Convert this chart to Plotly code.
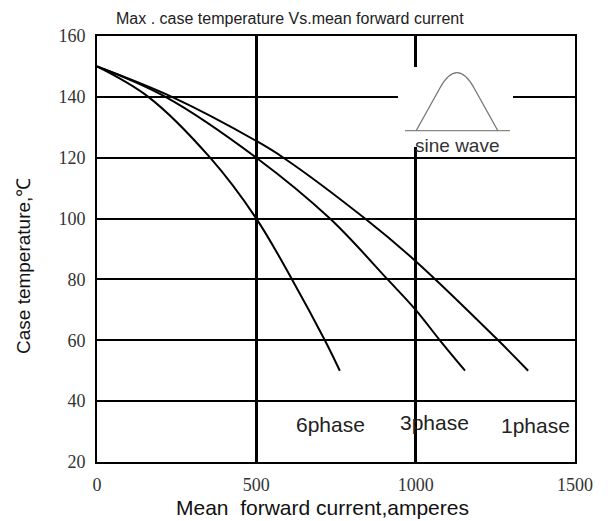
import plotly.graph_objects as go

# ---- data ----
x_6phase = [0, 161, 355, 500, 612, 715, 762]
y_6phase = [150, 140, 120, 100, 80, 60, 50]

x_3phase = [0, 215, 500, 731, 912, 1000, 1076, 1155]
y_3phase = [150, 140, 120, 100, 80, 70, 60, 50]

x_1phase = [0, 235, 500, 585, 841, 1000, 1259, 1353]
y_1phase = [150, 140, 125.5, 120, 100, 86, 60, 50]

x_ticks = [0, 500, 1000, 1500]
y_ticks = [20, 40, 60, 80, 100, 120, 140, 160]

series_labels = ["6phase", "3phase", "1phase"]

OFF = 8  # default page body margin
W, H = 608 - OFF, 521 - OFF
L, R, T, B = 97 - OFF, 33, 36 - OFF, 59
X0, X1 = 0, 1500
Y0, Y1 = 20, 160
pw, ph = W - L - R, H - T - B


def px2x(px):
    return X0 + (px - OFF - L) / pw * (X1 - X0)


def py2y(py):
    return Y1 - (py - OFF - T) / ph * (Y1 - Y0)


def px2paper(px):
    return (px - OFF - L) / pw


def py2paper(py):
    return (H - B - (py - OFF)) / ph


fig = go.Figure()
for xs, ys in [(x_6phase, y_6phase), (x_3phase, y_3phase), (x_1phase, y_1phase)]:
    fig.add_trace(go.Scatter(
        x=xs, y=ys, mode="lines",
        line=dict(color="black", width=2, shape="spline", smoothing=1.0),
        showlegend=False, hoverinfo="skip"))

shapes = []
# white patch that opens the grid around the sine-wave icon
shapes.append(dict(type="rect", xref="x", yref="y", layer="between",
                   x0=px2x(398), x1=px2x(513), y0=py2y(147), y1=py2y(67),
                   fillcolor="white", line=dict(width=0)))
# sine wave icon
shapes.append(dict(type="line", xref="x", yref="y", layer="above",
                   x0=px2x(405), x1=px2x(510), y0=py2y(130.7), y1=py2y(130.7),
                   line=dict(color="#888888", width=1.3)))
pts = [(416, 131), (439.8, 88.2), (457, 57.2), (474.2, 88.2), (498, 131)]
p = [(px2x(a), py2y(b)) for a, b in pts]
path = (f"M {p[0][0]},{p[0][1]} L {p[1][0]},{p[1][1]} "
        f"Q {p[2][0]},{p[2][1]} {p[3][0]},{p[3][1]} L {p[4][0]},{p[4][1]}")
shapes.append(dict(type="path", xref="x", yref="y", layer="above", path=path,
                   line=dict(color="#777777", width=1.3)))

annotations = [
    dict(text="Max . case temperature Vs.mean forward current",
         x=px2paper(289.5), y=py2paper(19), xref="paper", yref="paper",
         xanchor="center", yanchor="middle", showarrow=False,
         font=dict(family="Liberation Sans", size=16, color="#222222")),
    dict(text="Mean  forward current,amperes",
         x=px2paper(322), y=py2paper(507), xref="paper", yref="paper",
         xanchor="center", yanchor="middle", showarrow=False,
         font=dict(family="Liberation Sans", size=21, color="#111111")),
    dict(text="Case temperature,℃",
         x=px2paper(23), y=py2paper(266), xref="paper", yref="paper",
         xanchor="center", yanchor="middle", showarrow=False, textangle=-90,
         font=dict(family="Liberation Sans", size=19, color="#111111")),
    dict(text="sine wave",
         x=px2paper(457), y=py2paper(145), xref="paper", yref="paper",
         xanchor="center", yanchor="middle", showarrow=False,
         font=dict(family="Liberation Sans", size=19, color="#333333")),
]
label_pos = [(330, 424), (434.5, 422), (535, 425)]
for lab, (lx, ly) in zip(series_labels, label_pos):
    annotations.append(dict(text=lab, x=px2paper(lx), y=py2paper(ly),
                            xref="paper", yref="paper", xanchor="center",
                            yanchor="middle", showarrow=False,
                            font=dict(family="Liberation Sans", size=21,
                                      color="#222222")))

fig.update_layout(
    width=W, height=H,
    margin=dict(l=L, r=R, t=T, b=B, pad=0),
    paper_bgcolor="white", plot_bgcolor="white",
    shapes=shapes, annotations=annotations,
    xaxis=dict(range=[X0, X1], tickvals=x_ticks, ticktext=[str(v) for v in x_ticks],
               showgrid=True, gridcolor="black", gridwidth=3,
               showline=True, linecolor="black", linewidth=2, mirror=True,
               zeroline=False, ticks="", ticklabelstandoff=5,
               tickfont=dict(family="Liberation Serif", size=18, color="#333333"),
               fixedrange=True),
    yaxis=dict(range=[Y0, Y1], tickvals=y_ticks, ticktext=[str(v) for v in y_ticks],
               showgrid=True, gridcolor="black", gridwidth=2,
               showline=True, linecolor="black", linewidth=2, mirror=True,
               zeroline=False, ticks="", ticklabelstandoff=6,
               tickfont=dict(family="Liberation Serif", size=18, color="#333333"),
               fixedrange=True),
)

fig.write_html("out.html")
